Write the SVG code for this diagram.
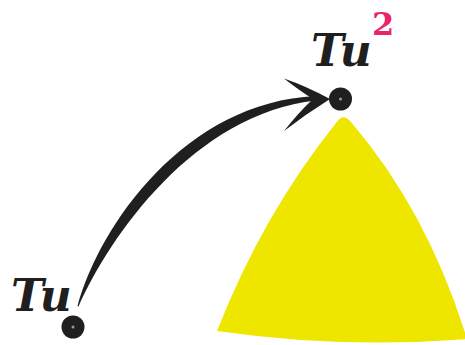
<svg xmlns="http://www.w3.org/2000/svg" width="465" height="345" viewBox="0 0 465 345">
<style>
.lbl{font-family:"DejaVu Serif","Liberation Serif",serif;font-style:italic;font-weight:bold;font-size:44px;fill:#1f1f1f}
.sup{font-family:"DejaVu Serif","Liberation Serif",serif;font-weight:bold;font-size:32px;fill:#e8246b}
.dot{fill:#1f1f1f}
.pin{fill:#9a9a9a}
.ink{fill:#1f1f1f}
</style>
<rect width="465" height="345" fill="#ffffff"/>
<g id="region">
<path d="M336,123 Q343,112 351,122 Q428,212 467,339 Q341,349 217,331 Q263,214 336,123 Z" fill="#efe600"/>
</g>
<g id="connectors">
<path class="ink" d="M77.5,306 C100,224 186,102 316,96 L316,100.5 C194,114 110,236 78.5,306.5 Z"/>
<path class="ink" d="M330,99 Q306,86 284,78.5 Q300,91 313,99 Q299,112 284,131 Q306,114 330,99 Z"/>
</g>
<g id="node-Tu2">
<circle class="dot" cx="340.5" cy="99" r="11.5"/>
<circle class="pin" cx="340.5" cy="99" r="1.5"/>
<text class="lbl" x="311" y="66">Tu</text>
<text class="sup" x="372" y="35">2</text>
</g>
<g id="node-Tu">
<circle class="dot" cx="73" cy="327" r="11.5"/>
<circle class="pin" cx="73" cy="327" r="1.5"/>
<text class="lbl" x="11" y="311">Tu</text>
</g>
</svg>
